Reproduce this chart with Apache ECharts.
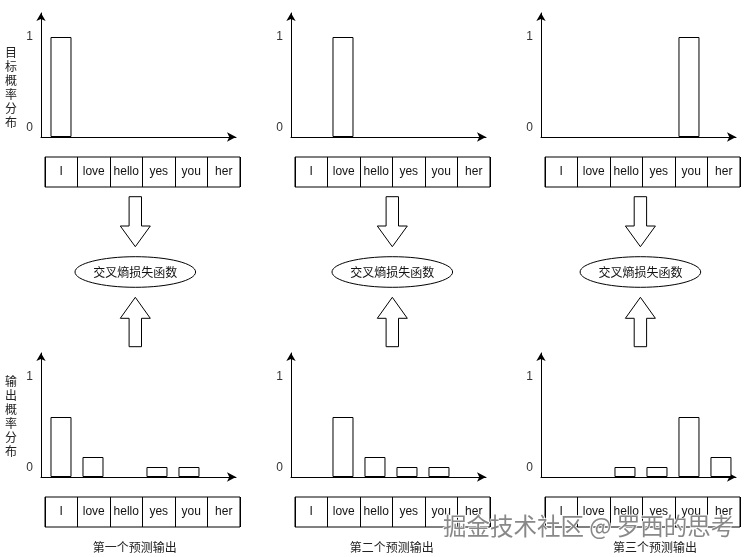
<!DOCTYPE html>
<html>
<head>
<meta charset="utf-8">
<title>交叉熵损失函数</title>
<script src="https://cdn.jsdelivr.net/npm/echarts@6/dist/echarts.min.js"></script>
<style>
    html, body { margin: 0; padding: 0; background: #fff; }
    #chart { width: 750px; height: 557px; }
</style>
</head>
<body>
<div id="chart"></div>
<script>
    const words = ['I', 'love', 'hello', 'yes', 'you', 'her']
    const yTicks = [0, 1]

    // 目标概率分布 (one-hot)
    const target1 = [1, 0, 0, 0, 0, 0]
    const target2 = [0, 1, 0, 0, 0, 0]
    const target3 = [0, 0, 0, 0, 1, 0]

    // 输出概率分布
    const output1 = [0.6, 0.2, 0, 0.1, 0.1, 0]
    const output2 = [0, 0.6, 0.2, 0.1, 0.1, 0]
    const output3 = [0, 0, 0.1, 0.1, 0.6, 0.2]

    const captions = ['第一个预测输出', '第二个预测输出', '第三个预测输出']
    const lossName = '交叉熵损失函数'
    const rowTitles = ['目标概率分布', '输出概率分布']
    const watermark = '掘金技术社区 @ 罗西的思考'

    const FONT = "'Liberation Sans', Arial, 'Noto Sans CJK SC', sans-serif"
    const CJK = "'Noto Sans CJK SC', 'Liberation Sans', sans-serif"

    const panels = [
        { col: 0, row: 0, values: target1 },
        { col: 1, row: 0, values: target2 },
        { col: 2, row: 0, values: target3 },
        { col: 0, row: 1, values: output1 },
        { col: 1, row: 1, values: output2 },
        { col: 2, row: 1, values: output3 }
    ]

    const grid = []
    const xAxis = []
    const yAxis = []
    const series = []

    panels.forEach((p, k) => {
        const dx = p.col * 250
        const dy = p.row * 340

        // bar chart
        grid.push({ left: 41 + dx, top: 13 + dy, width: 195, height: 124 })
        xAxis.push({
            gridIndex: 2 * k,
            type: 'value',
            min: -0.625,
            max: 5.47,
            axisLine: {
                show: true,
                onZero: false,
                symbol: ['none', 'arrow'],
                symbolSize: [7, 9],
                lineStyle: { color: '#000', width: 1 }
            },
            axisTick: { show: false },
            axisLabel: { show: false },
            splitLine: { show: false }
        })
        yAxis.push({
            gridIndex: 2 * k,
            type: 'value',
            min: 0,
            max: 1.24,
            interval: 1,
            axisLine: {
                show: true,
                onZero: false,
                symbol: ['none', 'arrow'],
                symbolSize: [7, 8],
                lineStyle: { color: '#000', width: 1 }
            },
            axisTick: { show: false },
            splitLine: { show: false },
            axisLabel: {
                margin: 8,
                color: '#333',
                fontSize: 12,
                fontFamily: FONT,
                formatter: v => {
                    if (!yTicks.includes(v)) return ''
                    return v === 0 ? '{z|0}' : String(v)
                },
                rich: {
                    z: { padding: [0, 0, 18, 0], fontSize: 12, color: '#333', fontFamily: FONT }
                }
            }
        })
        series.push({
            type: 'bar',
            xAxisIndex: 2 * k,
            yAxisIndex: 2 * k,
            // a zero probability draws no box
            data: p.values.map((v, i) => [i, v === 0 ? '-' : v]),
            barWidth: 21,
            itemStyle: { color: '#fff', borderColor: '#000', borderWidth: 1 },
            silent: true
        })

        // word table under the chart
        grid.push({
            left: 45 + dx, top: 157 + dy, width: 195, height: 30,
            show: true, borderColor: '#000', borderWidth: 1
        })
        xAxis.push({
            gridIndex: 2 * k + 1,
            type: 'category',
            data: words,
            boundaryGap: true,
            axisLine: { show: false },
            axisTick: { show: false },
            splitLine: { show: true, interval: 0, lineStyle: { color: '#000', width: 1 } },
            axisLabel: {
                inside: true,
                margin: 15,
                interval: 0,
                verticalAlign: 'middle',
                color: '#111',
                fontSize: 12,
                fontFamily: FONT
            }
        })
        yAxis.push({ gridIndex: 2 * k + 1, type: 'value', show: false })
    })

    // arrows, ellipses and captions
    const arrowX = [135.3, 392.3, 640.4]
    const captionX = [134.7, 391.7, 655]
    const graphic = []
    const sh = 6.2
    const hh = 15
    arrowX.forEach((cx, i) => {
        graphic.push({
            type: 'polygon',
            shape: { points: [[cx - sh, 196.7], [cx + sh, 196.7], [cx + sh, 226], [cx + hh, 226], [cx, 246.7], [cx - hh, 226], [cx - sh, 226]] },
            style: { fill: '#fff', stroke: '#000', lineWidth: 1 }
        })
        graphic.push({
            type: 'polygon',
            shape: { points: [[cx, 297.3], [cx + hh, 318.3], [cx + sh, 318.3], [cx + sh, 346.7], [cx - sh, 346.7], [cx - sh, 318.3], [cx - hh, 318.3]] },
            style: { fill: '#fff', stroke: '#000', lineWidth: 1 }
        })
        graphic.push({
            type: 'ellipse',
            shape: { cx: cx, cy: 272, rx: 60.3, ry: 15.3 },
            style: { fill: '#fff', stroke: '#000', lineWidth: 1 }
        })
        graphic.push({
            type: 'text',
            style: {
                text: lossName, x: cx, y: 272, fill: '#111', font: '12px ' + CJK,
                textAlign: 'center', textVerticalAlign: 'middle', verticalAlign: 'middle'
            }
        })
        graphic.push({
            type: 'text',
            style: {
                text: captions[i], x: captionX[i], y: 547.5, fill: '#222', font: '12px ' + CJK,
                textAlign: 'center', textVerticalAlign: 'middle', verticalAlign: 'middle'
            }
        })
    })

    rowTitles.forEach((t, r) => {
        graphic.push({
            type: 'text',
            style: {
                text: t.split('').join('\n'), x: 11, y: 45.5 + r * 329.2,
                fill: '#222', font: '12px ' + CJK, lineHeight: 14,
                textAlign: 'center', textVerticalAlign: 'top', verticalAlign: 'top'
            }
        })
    })

    graphic.push({
        type: 'text',
        z: 100,
        style: {
            text: watermark, x: 443, y: 526, fill: '#888',
            stroke: '#fff', lineWidth: 1.5,
            font: '23.5px ' + CJK,
            textAlign: 'left', textVerticalAlign: 'middle', verticalAlign: 'middle',
            shadowColor: 'rgba(0,0,0,0.35)', shadowBlur: 2, shadowOffsetX: 1, shadowOffsetY: 1
        }
    })

    const chart = echarts.init(document.getElementById('chart'), null, { renderer: 'canvas' })
    chart.setOption({
        animation: false,
        backgroundColor: '#fff',
        grid,
        xAxis,
        yAxis,
        series,
        graphic
    })
</script>
</body>
</html>
